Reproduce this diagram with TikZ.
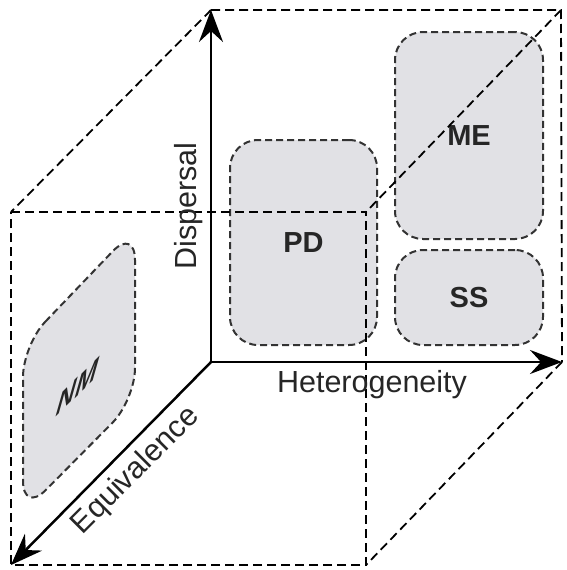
\documentclass[tikz,border=0pt]{standalone}
\usepackage{fontspec}
\setmainfont{Liberation Sans}
\usetikzlibrary{arrows.meta}
\definecolor{regionfill}{RGB}{225,225,229}

\begin{document}
\begin{tikzpicture}[x=1pt, y=-1pt,
  axis/.style={line width=2.5pt, -{Stealth[length=32pt,width=24pt,inset=11pt]}},
  edge/.style={line width=1.8pt, dash pattern=on 9pt off 5pt},
  region/.style={fill=regionfill, draw=black!80, line width=2pt, dash pattern=on 7pt off 4pt, rounded corners=28pt},
  tag/.style={font=\fontsize{29}{34}\selectfont\bfseries, text=black!85, inner sep=0pt},
  axislabel/.style={font=\fontsize{30.5}{36}\selectfont, text=black!85}]
\useasboundingbox (0,0) rectangle (566,570);
\coordinate (O) at (211,362);
\coordinate (BTL) at (211,10);
\coordinate (BTR) at (561,10);
\coordinate (BBR) at (562,362);
\coordinate (FTL) at (11,212);
\coordinate (FTR) at (366,212);
\coordinate (FBR) at (366,565);
\coordinate (FBL) at (11,565);

\node[region, tag, minimum width=147pt, minimum height=205pt] (PD) at (303.5,242.5) {PD};
\node[region, tag, minimum width=148pt, minimum height=207pt] (ME) at (469,135.5) {ME};
\node[region, tag, minimum width=148pt, minimum height=95pt] (SS) at (469,297.5) {SS};
\draw[region, rounded corners=32pt] (23,345) -- (135,228) -- (135,400) -- (23,513) -- cycle;
\node[tag, font=\fontsize{26}{30}\selectfont\bfseries\itshape, yslant=1, xslant=0.2] (NM) at (78,387) {NM};

\draw[edge] (FTL) -- (FTR) -- (FBR) -- (FBL) -- cycle;
\draw[edge] (BTL) -- (BTR) -- (BBR);
\draw[edge] (BTL) -- (FTL);
\draw[edge] (BTR) -- (FTR);
\draw[edge] (BBR) -- (FBR);

\draw[axis] (O) -- (BTL);
\draw[axis] (O) -- (BBR);
\draw[axis] (O) -- (FBL);

\node[axislabel, rotate=90] (dispersal) at (189,206) {Dispersal};
\node[axislabel] (heterogeneity) at (372,385) {Heterogeneity};
\node[axislabel, rotate=45] (equivalence) at (136,471) {Equivalence};
\end{tikzpicture}
\end{document}
